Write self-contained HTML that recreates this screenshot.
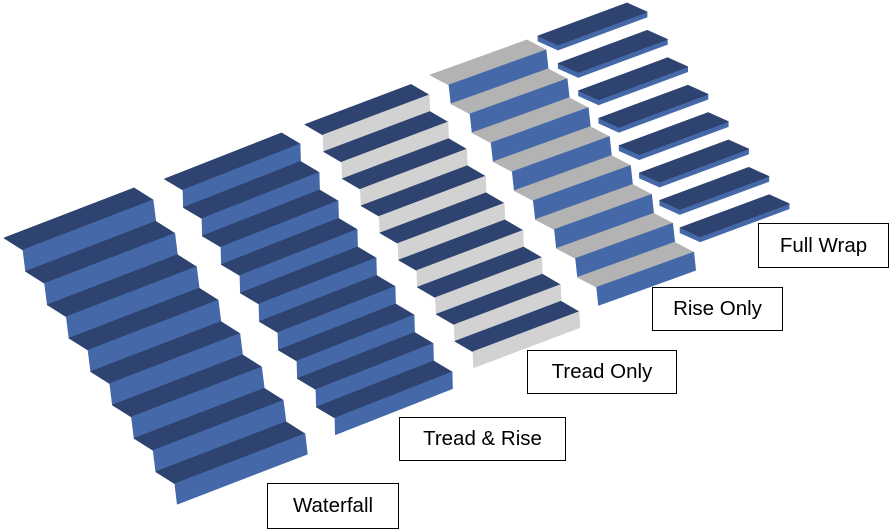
<!DOCTYPE html>
<html><head><meta charset="utf-8">
<style>
html,body{margin:0;padding:0;background:#fff;}
body{width:896px;height:531px;position:relative;overflow:hidden;font-family:"Liberation Sans",sans-serif;}
svg{position:absolute;left:0;top:0;}
.lb{position:absolute;border:1.3px solid #000;background:#fff;box-sizing:border-box;font-size:20.5px;color:#000;display:flex;align-items:center;justify-content:center;}
</style></head><body>
<svg id="s" width="896" height="531" viewBox="0 0 896 531"></svg>
<div class="lb" style="left:758px;top:223px;width:131px;height:45px;">Full Wrap</div>
<div class="lb" style="left:652px;top:287px;width:131px;height:44px;">Rise Only</div>
<div class="lb" style="left:527px;top:350px;width:150px;height:44px;">Tread Only</div>
<div class="lb" style="left:399px;top:417px;width:167px;height:44px;">Tread &amp; Rise</div>
<div class="lb" style="left:267px;top:483px;width:132px;height:46px;">Waterfall</div>
<script>
var s=document.getElementById('s'),out='';
var DK='#2E4370',BL='#4569A8',G1='#D2D2D2',G2='#B3B3B3';
function poly(p,f){out+='<polygon points="'+p.map(function(a){return a[0].toFixed(1)+','+a[1].toFixed(1)}).join(' ')+'" fill="'+f+'" stroke="'+f+'" stroke-width="0.8" stroke-linejoin="round"/>';}
function add(a,b){return [a[0]+b[0],a[1]+b[1]];}
function sub(a,b){return [a[0]-b[0],a[1]-b[1]];}
function stair(fl0,W,D,st,n,tc,rc){
 var R=sub(st,D);
 for(var k=0;k<n;k++){
  var fl=[fl0[0]+st[0]*k,fl0[1]+st[1]*k];
  var fr=add(fl,W), bl=sub(fl,D), br=sub(fr,D);
  poly([bl,br,fr,fl],tc);
  var rr=(k==n-1)?[R[0]*0.9,R[1]*0.95]:R;
  poly([fl,fr,add(fr,rr),add(fl,rr)],rc);
 }
}
stair([23,250],[130,-50],[19,12],[21.7,33.4],8,DK,BL);
stair([183,190],[117,-46],[18.5,11],[19,28.5],9,DK,BL);
stair([323,135],[106,-40],[18,10.5],[18.75,27.1],9,DK,G1);
stair([449,85],[97,-35],[19,10],[21.1,28.9],8,G2,BL);
for(var k=0;k<8;k++){
 var b=[538+20.3*k,36+27.4*k],W=[89,-33],D=[20,9],T=[0,5];
 var br=add(b,W),fl=add(b,D),fr=add(br,D);
 poly([b,fl,add(fl,T),add(b,T)],BL);
 poly([fl,fr,add(fr,T),add(fl,T)],BL);
 poly([b,br,fr,fl],DK);
}
s.innerHTML=out;
</script>
</body></html>
